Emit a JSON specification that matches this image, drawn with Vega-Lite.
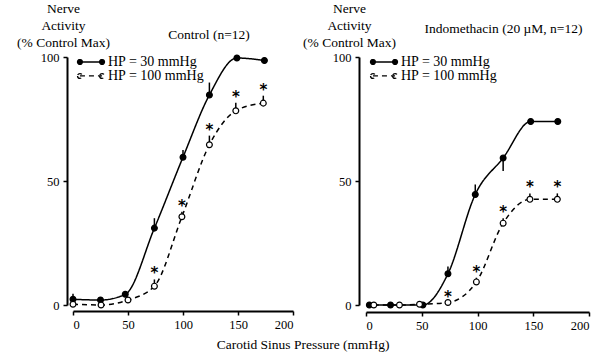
{
  "$schema": "https://vega.github.io/schema/vega-lite/v6.json",
  "background": "white",
  "padding": {"left": 16, "top": 1, "right": 5, "bottom": 5},
  "bounds": "flush",
  "spacing": 73,
  "config": {
    "font": "Liberation Serif",
    "view": {"stroke": null},
    "axis": {
      "grid": false,
      "domainColor": "black",
      "domainWidth": 2,
      "tickColor": "black",
      "tickWidth": 1.5,
      "tickSize": 4,
      "offset": 6,
      "labelFont": "Liberation Serif",
      "labelFontSize": 12.5,
      "labelColor": "black",
      "titleFont": "Liberation Serif",
      "titleFontSize": 13.5,
      "titleFontWeight": "normal",
      "titleColor": "black"
    },
    "title": {"font": "Liberation Serif", "fontWeight": "normal", "color": "black", "fontSize": 13.5}
  },
  "title": {"text": "Carotid Sinus Pressure (mmHg)", "orient": "bottom", "anchor": "middle", "fontSize": 13.5, "offset": 6},
  "data": {
    "values": [
      {"panel": "Control", "series": "HP = 30 mmHg", "x": 0, "y": 2.3, "lo": 0.5, "hi": 4.5, "sig": false},
      {"panel": "Control", "series": "HP = 30 mmHg", "x": 25, "y": 2, "lo": null, "hi": null, "sig": false},
      {"panel": "Control", "series": "HP = 30 mmHg", "x": 47.5, "y": 4.3, "lo": null, "hi": null, "sig": false},
      {"panel": "Control", "series": "HP = 30 mmHg", "x": 74, "y": 31, "lo": 31, "hi": 35, "sig": false},
      {"panel": "Control", "series": "HP = 30 mmHg", "x": 100, "y": 59.6, "lo": 59.6, "hi": 62.5, "sig": false},
      {"panel": "Control", "series": "HP = 30 mmHg", "x": 124, "y": 84.7, "lo": 84.7, "hi": 89.7, "sig": false},
      {"panel": "Control", "series": "HP = 30 mmHg", "x": 149, "y": 99.6, "lo": null, "hi": null, "sig": false},
      {"panel": "Control", "series": "HP = 30 mmHg", "x": 174, "y": 98.6, "lo": null, "hi": null, "sig": false},
      {"panel": "Control", "series": "HP = 100 mmHg", "x": 0, "y": 0.3, "lo": -0.5, "hi": 1.5, "sig": false},
      {"panel": "Control", "series": "HP = 100 mmHg", "x": 25.5, "y": 0, "lo": null, "hi": null, "sig": false},
      {"panel": "Control", "series": "HP = 100 mmHg", "x": 50, "y": 2, "lo": null, "hi": null, "sig": false},
      {"panel": "Control", "series": "HP = 100 mmHg", "x": 74, "y": 7.6, "lo": 7.6, "hi": 10.3, "sig": true},
      {"panel": "Control", "series": "HP = 100 mmHg", "x": 99, "y": 35.6, "lo": 35.6, "hi": 37.6, "sig": true},
      {"panel": "Control", "series": "HP = 100 mmHg", "x": 124, "y": 64.6, "lo": 64.6, "hi": 68.3, "sig": true},
      {"panel": "Control", "series": "HP = 100 mmHg", "x": 148, "y": 78.3, "lo": 78.3, "hi": 81.6, "sig": true},
      {"panel": "Control", "series": "HP = 100 mmHg", "x": 173, "y": 81.4, "lo": 81.4, "hi": 84.4, "sig": true},
      {"panel": "Indomethacin", "series": "HP = 30 mmHg", "x": 3, "y": 0, "lo": null, "hi": null, "sig": false},
      {"panel": "Indomethacin", "series": "HP = 30 mmHg", "x": 22, "y": 0, "lo": null, "hi": null, "sig": false},
      {"panel": "Indomethacin", "series": "HP = 30 mmHg", "x": 51, "y": 0, "lo": null, "hi": null, "sig": false},
      {"panel": "Indomethacin", "series": "HP = 30 mmHg", "x": 73.5, "y": 12.6, "lo": 12.6, "hi": 15.5, "sig": false},
      {"panel": "Indomethacin", "series": "HP = 30 mmHg", "x": 98, "y": 44.6, "lo": 44.6, "hi": 48.6, "sig": false},
      {"panel": "Indomethacin", "series": "HP = 30 mmHg", "x": 123, "y": 59.3, "lo": 54, "hi": 59.3, "sig": false},
      {"panel": "Indomethacin", "series": "HP = 30 mmHg", "x": 147.7, "y": 74, "lo": null, "hi": null, "sig": false},
      {"panel": "Indomethacin", "series": "HP = 30 mmHg", "x": 172, "y": 74, "lo": null, "hi": null, "sig": false},
      {"panel": "Indomethacin", "series": "HP = 100 mmHg", "x": 7, "y": 0, "lo": null, "hi": null, "sig": false},
      {"panel": "Indomethacin", "series": "HP = 100 mmHg", "x": 30, "y": 0, "lo": null, "hi": null, "sig": false},
      {"panel": "Indomethacin", "series": "HP = 100 mmHg", "x": 48, "y": 0.3, "lo": null, "hi": null, "sig": false},
      {"panel": "Indomethacin", "series": "HP = 100 mmHg", "x": 73.5, "y": 1, "lo": 1, "hi": 1, "sig": true},
      {"panel": "Indomethacin", "series": "HP = 100 mmHg", "x": 99, "y": 9.3, "lo": 9.3, "hi": 11, "sig": true},
      {"panel": "Indomethacin", "series": "HP = 100 mmHg", "x": 123, "y": 33, "lo": 33, "hi": 35, "sig": true},
      {"panel": "Indomethacin", "series": "HP = 100 mmHg", "x": 147, "y": 42.6, "lo": 42.6, "hi": 45, "sig": true},
      {"panel": "Indomethacin", "series": "HP = 100 mmHg", "x": 171.6, "y": 42.6, "lo": 42.6, "hi": 45, "sig": true}
    ]
  },
  "resolve": {"scale": {"strokeDash": "independent", "fill": "independent"}, "legend": {"strokeDash": "independent"}},
  "hconcat": [
    {
      "width": 220,
      "height": 248,
      "title": {"text": "Control (n=12)", "anchor": "middle", "frame": "group", "dx": 26, "offset": -40},
      "transform": [{"filter": "datum.panel === 'Control'"}],
      "encoding": {
        "x": {"field": "x", "type": "quantitative", "scale": {"domain": [0, 200], "nice": false, "zero": false}, "axis": {"values": [0, 50, 100, 150, 200], "title": null, "labelPadding": 3}},
        "y": {"field": "y", "type": "quantitative", "scale": {"domain": [0, 100], "nice": false, "zero": false}, "axis": {"values": [0, 50, 100], "title": ["Nerve", "Activity", "(% Control Max)"], "titleAngle": 0, "titleAlign": "center", "titleBaseline": "top", "titleX": -4, "titleY": -56, "titleLineHeight": 17, "labelPadding": 4}}
      },
      "layer": [
        {
          "mark": {"type": "line", "interpolate": "monotone", "strokeWidth": 1.5, "color": "black", "clip": false},
          "encoding": {
            "strokeDash": {
              "field": "series", "type": "nominal",
              "scale": {"domain": ["HP = 30 mmHg", "HP = 100 mmHg"], "range": [[1, 0], [5, 4]]},
              "legend": {
                "orient": "none", "legendX": 6, "legendY": -7, "title": null, "padding": 0, "rowPadding": 0,
                "symbolType": "M-1,0L1,0M-1.22,0a0.22,0.22 0 1,0 0.44,0a0.22,0.22 0 1,0 -0.44,0M0.78,0a0.22,0.22 0 1,0 0.44,0a0.22,0.22 0 1,0 -0.44,0",
                "symbolSize": 488, "symbolStrokeWidth": 1.3, "symbolStrokeColor": "black",
                "labelFont": "Liberation Serif", "labelFontSize": 14, "labelColor": "black", "labelOffset": 5,
                "encode": {
                  "symbols": {"update": {
                    "fill": {"signal": "datum.value === 'HP = 30 mmHg' ? 'black' : 'white'"},
                    "stroke": {"value": "black"},
                    "strokeDash": {"signal": "datum.value === 'HP = 30 mmHg' ? [] : [3, 2]"},
                    "shape": {"signal": "datum.value === 'HP = 30 mmHg' ? 'M-1,0L1,0M-1.22,0a0.22,0.22 0 1,0 0.44,0a0.22,0.22 0 1,0 -0.44,0M0.78,0a0.22,0.22 0 1,0 0.44,0a0.22,0.22 0 1,0 -0.44,0' : 'M-1,-1.18L1,-1.18M-1.22,-1.18a0.22,0.22 0 1,0 0.44,0a0.22,0.22 0 1,0 -0.44,0M0.78,-1.18a0.22,0.22 0 1,0 0.44,0a0.22,0.22 0 1,0 -0.44,0'"}
                  }},
                  "labels": {"update": {"dy": {"signal": "datum.value === 'HP = 30 mmHg' ? 0 : -13"}}}
                }
              }
            }
          }
        },
        {
          "transform": [{"filter": "datum.lo != null"}],
          "mark": {"type": "rule", "strokeWidth": 1.5, "color": "black"},
          "encoding": {"y": {"field": "lo", "type": "quantitative"}, "y2": {"field": "hi"}}
        },
        {
          "mark": {"type": "point", "shape": "circle", "size": 34, "filled": true, "stroke": "black", "strokeWidth": 1.2, "opacity": 1},
          "encoding": {"fill": {"field": "series", "type": "nominal", "scale": {"domain": ["HP = 30 mmHg", "HP = 100 mmHg"], "range": ["black", "white"]}, "legend": null}}
        },
        {
          "transform": [{"filter": "datum.sig"}],
          "mark": {"type": "text", "text": "*", "font": "DejaVu Sans", "fontSize": 15, "fontWeight": "bold", "dy": -6, "baseline": "middle", "fill": "black"},
          "encoding": {"y": {"field": "hi", "type": "quantitative"}}
        }
      ]
    },
    {
      "width": 223,
      "height": 248,
      "title": {"text": "Indomethacin (20 µM, n=12)", "anchor": "middle", "frame": "group", "dx": 26, "offset": -34},
      "transform": [{"filter": "datum.panel === 'Indomethacin'"}],
      "encoding": {
        "x": {"field": "x", "type": "quantitative", "scale": {"domain": [0, 200], "nice": false, "zero": false}, "axis": {"values": [0, 50, 100, 150, 200], "title": null, "labelPadding": 3, "offset": 7}},
        "y": {"field": "y", "type": "quantitative", "scale": {"domain": [0, 100], "nice": false, "zero": false}, "axis": {"values": [0, 50, 100], "title": ["Nerve", "Activity", "(% Control Max)"], "titleAngle": 0, "titleAlign": "center", "titleBaseline": "top", "titleX": -10, "titleY": -56, "titleLineHeight": 17, "labelPadding": 4, "offset": 7}}
      },
      "layer": [
        {
          "mark": {"type": "line", "interpolate": "monotone", "strokeWidth": 1.5, "color": "black", "clip": false},
          "encoding": {
            "strokeDash": {
              "field": "series", "type": "nominal",
              "scale": {"domain": ["HP = 30 mmHg", "HP = 100 mmHg"], "range": [[1, 0], [5, 4]]},
              "legend": {
                "orient": "none", "legendX": 6, "legendY": -7, "title": null, "padding": 0, "rowPadding": 0,
                "symbolType": "M-1,0L1,0M-1.22,0a0.22,0.22 0 1,0 0.44,0a0.22,0.22 0 1,0 -0.44,0M0.78,0a0.22,0.22 0 1,0 0.44,0a0.22,0.22 0 1,0 -0.44,0",
                "symbolSize": 488, "symbolStrokeWidth": 1.3, "symbolStrokeColor": "black",
                "labelFont": "Liberation Serif", "labelFontSize": 14, "labelColor": "black", "labelOffset": 5,
                "encode": {
                  "symbols": {"update": {
                    "fill": {"signal": "datum.value === 'HP = 30 mmHg' ? 'black' : 'white'"},
                    "stroke": {"value": "black"},
                    "strokeDash": {"signal": "datum.value === 'HP = 30 mmHg' ? [] : [3, 2]"},
                    "shape": {"signal": "datum.value === 'HP = 30 mmHg' ? 'M-1,0L1,0M-1.22,0a0.22,0.22 0 1,0 0.44,0a0.22,0.22 0 1,0 -0.44,0M0.78,0a0.22,0.22 0 1,0 0.44,0a0.22,0.22 0 1,0 -0.44,0' : 'M-1,-1.18L1,-1.18M-1.22,-1.18a0.22,0.22 0 1,0 0.44,0a0.22,0.22 0 1,0 -0.44,0M0.78,-1.18a0.22,0.22 0 1,0 0.44,0a0.22,0.22 0 1,0 -0.44,0'"}
                  }},
                  "labels": {"update": {"dy": {"signal": "datum.value === 'HP = 30 mmHg' ? 0 : -13"}}}
                }
              }
            }
          }
        },
        {
          "transform": [{"filter": "datum.lo != null"}],
          "mark": {"type": "rule", "strokeWidth": 1.5, "color": "black"},
          "encoding": {"y": {"field": "lo", "type": "quantitative"}, "y2": {"field": "hi"}}
        },
        {
          "mark": {"type": "point", "shape": "circle", "size": 34, "filled": true, "stroke": "black", "strokeWidth": 1.2, "opacity": 1},
          "encoding": {"fill": {"field": "series", "type": "nominal", "scale": {"domain": ["HP = 30 mmHg", "HP = 100 mmHg"], "range": ["black", "white"]}, "legend": null}}
        },
        {
          "transform": [{"filter": "datum.sig"}],
          "mark": {"type": "text", "text": "*", "font": "DejaVu Sans", "fontSize": 15, "fontWeight": "bold", "dy": -6, "baseline": "middle", "fill": "black"},
          "encoding": {"y": {"field": "hi", "type": "quantitative"}}
        }
      ]
    }
  ]
}
